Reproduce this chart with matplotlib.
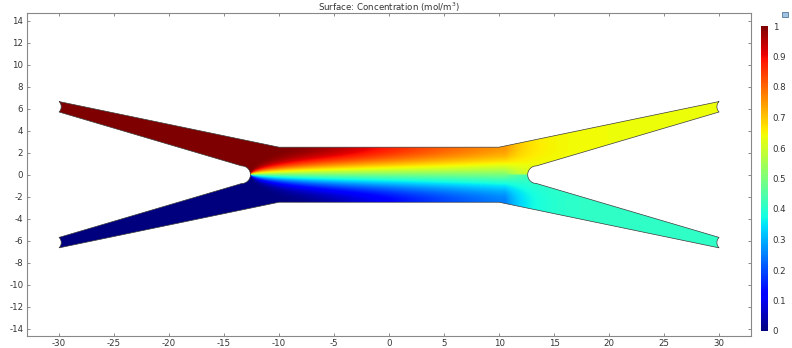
import numpy as np
import matplotlib
matplotlib.use("Agg")
import matplotlib.pyplot as plt
from matplotlib.path import Path
from matplotlib.patches import PathPatch, Rectangle
from matplotlib import cm, colors

plt.rcParams['font.family'] = ['DejaVu Sans']
plt.rcParams['axes.unicode_minus'] = False

# ---- data ----
title = "Surface: Concentration (mol/m$^3$)"
x_ticks = list(range(-30, 31, 5))
y_ticks = list(range(-14, 15, 2))
cbar_ticks = [0, 0.1, 0.2, 0.3, 0.4, 0.5, 0.6, 0.7, 0.8, 0.9, 1]
cbar_labels = ["0", "0.1", "0.2", "0.3", "0.4", "0.5", "0.6", "0.7", "0.8", "0.9", "1"]

# geometry (channel half width, arm ends, wedge tips)
channel_half = 2.5
channel_ends = [-10, 10]
arm_end_x = 30
arm_outer_y = 6.65
arm_inner_y = 5.7
tip_x = 13.4
tip_r = 0.8
port_sag = 0.2

# concentration values
inlet_values = [1.0, 0.0]          # upper, lower inlet
outlet_values = [0.64, 0.41]       # upper, lower outlet
tau_at_exit = 0.0946               # diffusion progress reached at x = 10
tip_front = -12.6                  # wedge tip where the streams meet

# ---- build domain path ----
def arc(cx, cy, r, a0, a1, n=30):
    a = np.linspace(np.radians(a0), np.radians(a1), n)
    return list(zip(cx + r*np.cos(a), cy + r*np.sin(a)))

def port(x, y0, y1, inward, n=15):
    # concave circular cut between (x,y0) and (x,y1), bulging inward by port_sag
    half = abs(y1 - y0) / 2
    s = port_sag
    R = (half**2 + s**2) / (2*s)
    ym = (y0 + y1) / 2
    cx = x + inward*(s - R)
    ang0 = np.arctan2(y0 - ym, x - cx)
    ang1 = np.arctan2(y1 - ym, x - cx)
    d = ang1 - ang0
    if d > np.pi:
        ang1 -= 2*np.pi
    elif d < -np.pi:
        ang1 += 2*np.pi
    a = np.linspace(ang0, ang1, n)
    return list(zip(cx + R*np.cos(a), ym + R*np.sin(a)))

h = channel_half
X = arm_end_x
pts = []
pts += [(-X, arm_outer_y), (channel_ends[0], h), (channel_ends[1], h), (X, arm_outer_y)]
pts += port(X, arm_outer_y, arm_inner_y, -1)[1:]
pts += [(tip_x, tip_r)]
pts += arc(tip_x, 0, tip_r, 90, 270)[1:]
pts += [(X, -arm_inner_y)]
pts += port(X, -arm_inner_y, -arm_outer_y, -1)[1:]
pts += [(channel_ends[1], -h), (channel_ends[0], -h), (-X, -arm_outer_y)]
pts += port(-X, -arm_outer_y, -arm_inner_y, 1)[1:]
pts += [(-tip_x, -tip_r)]
pts += arc(-tip_x, 0, tip_r, -90, 90)[1:]
pts += [(-X, arm_inner_y)]
pts += port(-X, arm_inner_y, arm_outer_y, 1)[1:-1]
verts = pts + [pts[0]]
codes = [Path.MOVETO] + [Path.LINETO]*(len(verts)-2) + [Path.CLOSEPOLY]
domain = Path(verts, codes)

# ---- concentration field ----
xs = np.linspace(-31, 31, 1400)
ys = np.linspace(-7.2, 7.2, 520)
k = tau_at_exit / (channel_ends[1] - tip_front)
tau = k*np.clip(xs - tip_front, 0, channel_ends[1] - tip_front) + 1e-4
eta = np.clip((ys + h) / (2*h), 0, 1)
n = np.arange(1, 201)
a_n = -(2/(n*np.pi))*np.sin(n*np.pi/2)*(inlet_values[0]-inlet_values[1])
E = np.exp(-np.outer((n*np.pi)**2, tau))            # (N, nx)
C = np.cos(np.outer(eta, n*np.pi))                   # (ny, N)
mean_in = 0.5*(inlet_values[0]+inlet_values[1])
c = mean_in + (C*a_n) @ E                            # (ny, nx)
XX, YY = np.meshgrid(xs, ys)
m = np.where(YY > 0, outlet_values[0], outlet_values[1])
w = np.exp(-np.clip(XX - 10.5, 0, None)/1.8)
c = np.where(XX > channel_ends[1], w*c + (1-w)*m, c)
c = np.clip(c, 0, 1)

# ---- figure ----
fig = plt.figure(figsize=(7.92, 3.48), dpi=100)
ax = fig.add_axes([26.7/792, 12/348, 724.3/792, 322.7/348])
cmap = plt.get_cmap('jet')
norm = colors.Normalize(0, 1)
im = ax.imshow(c, extent=[xs[0], xs[-1], ys[0], ys[-1]], origin='lower',
               cmap=cmap, norm=norm, interpolation='bilinear', aspect='auto')
patch = PathPatch(domain, facecolor='none', edgecolor='none')
ax.add_patch(patch)
im.set_clip_path(patch)
ax.add_patch(PathPatch(domain, facecolor='none', edgecolor='#3a3a3a', lw=0.5))

ax.set_xlim(-32.94, 32.9)
ax.set_ylim(-14.66, 14.67)
ax.set_xticks(x_ticks)
ax.set_yticks(y_ticks)
ax.set_xticklabels([str(v) for v in x_ticks])
ax.set_yticklabels([str(v) for v in y_ticks])
ax.tick_params(direction='in', length=2.5, width=0.6, color='#777777',
               labelsize=6.2, labelcolor='#333333', pad=2.5,
               top=True, right=True)
for s in ax.spines.values():
    s.set_color('#888888')
    s.set_linewidth(0.8)

fig.text(388.9/792, 1 - 7/348, title, ha='center', va='center',
         fontsize=6.2, color='#333333')

cax = fig.add_axes([761/792, 17/348, 7/792, 305/348])
cb = fig.colorbar(cm.ScalarMappable(norm=norm, cmap=cmap), cax=cax)
cb.outline.set_visible(False)
cb.set_ticks(cbar_ticks)
cb.set_ticklabels(cbar_labels)
cax.tick_params(length=0, labelsize=6.2, labelcolor='#333333', pad=3.5)

# small icon at top right
fig.patches.append(Rectangle((782/792, 1-17/348), 6/792, 4.5/348,
                             transform=fig.transFigure, facecolor='#9fc3e0',
                             edgecolor='#557799', lw=0.6))

fig.savefig('out.png', dpi=100)
